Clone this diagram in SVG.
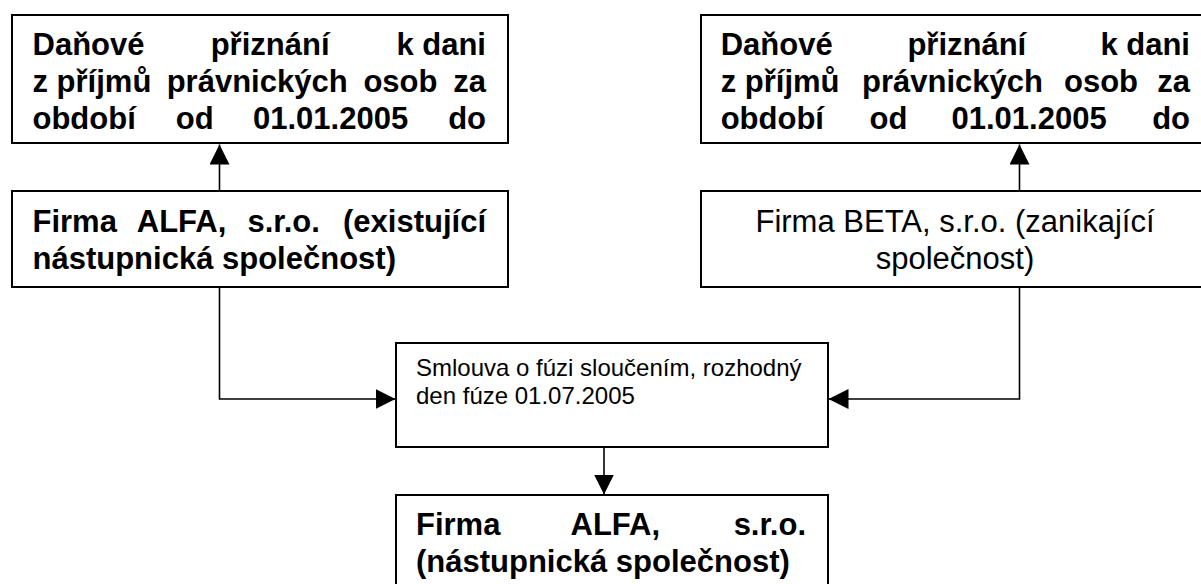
<svg xmlns="http://www.w3.org/2000/svg" width="1201" height="584" viewBox="0 0 1201 584">
<style>
.box{fill:#fff;stroke:#000;stroke-width:2}
.b{font-family:"Liberation Sans",Arial,sans-serif;font-weight:bold;font-size:31px;fill:#000}
.r{font-family:"Liberation Sans",Arial,sans-serif;font-size:31px;fill:#000}
.s{font-family:"Liberation Sans",Arial,sans-serif;font-size:24px;fill:#000}
.e{text-anchor:end}
.m{text-anchor:middle}
.c{fill:none;stroke:#000;stroke-width:1.6}
</style>
<defs>
<marker id="arr" markerUnits="userSpaceOnUse" markerWidth="20" markerHeight="20" refX="20" refY="10" orient="auto" viewBox="0 0 20 20">
<path d="M0,0 L20,10 L0,20 z" fill="#000"/>
</marker>
</defs>
<rect width="1201" height="584" fill="#fff"/>
<g id="connectors">
<path class="c" d="M219.5,191 V144.5" marker-end="url(#arr)"/>
<path class="c" d="M1019.5,191 V144.5" marker-end="url(#arr)"/>
<path class="c" d="M219.5,287 V399 H395.5" marker-end="url(#arr)"/>
<path class="c" d="M1019.5,287 V399 H828.5" marker-end="url(#arr)"/>
<path class="c" d="M604,447 V494.5" marker-end="url(#arr)"/>
</g>
<g id="dap-alfa">
<rect class="box" x="12" y="15" width="496" height="128"/>
<text class="b" y="54.5"><tspan x="32.5">Daňové</tspan><tspan x="210.7">přiznání</tspan></text>
<text class="b e" x="486" y="54.5">k dani</text>
<text class="b" y="91.5"><tspan x="32.5">z příjmů</tspan><tspan x="166.7">právnických</tspan><tspan x="363.4">osob</tspan></text>
<text class="b e" x="486" y="91.5">za</text>
<text class="b" y="128.5"><tspan x="32.5">období</tspan><tspan x="175.8">od</tspan><tspan x="253">01.01.2005</tspan></text>
<text class="b e" x="486" y="128.5">do</text>
</g>
<g id="dap-beta">
<rect class="box" x="701" y="15" width="510" height="128"/>
<text class="b" y="54.5"><tspan x="720.7">Daňové</tspan><tspan x="907.4">přiznání</tspan></text>
<text class="b e" x="1190" y="54.5">k dani</text>
<text class="b" y="91.5"><tspan x="720.7">z příjmů</tspan><tspan x="862">právnických</tspan><tspan x="1064">osob</tspan></text>
<text class="b e" x="1190" y="91.5">za</text>
<text class="b" y="128.5"><tspan x="720.7">období</tspan><tspan x="869.5">od</tspan><tspan x="951.5">01.01.2005</tspan></text>
<text class="b e" x="1190" y="128.5">do</text>
</g>
<g id="alfa">
<rect class="box" x="12" y="191" width="496" height="96"/>
<text class="b" y="231.5"><tspan x="32.5">Firma</tspan><tspan x="136.8">ALFA,</tspan><tspan x="247.5">s.r.o.</tspan></text>
<text class="b e" x="486" y="231.5">(existující</text>
<text class="b" x="32.5" y="268.5">nástupnická společnost)</text>
</g>
<g id="beta">
<rect class="box" x="701" y="191" width="510" height="96"/>
<text class="r m" x="955" y="231.5">Firma BETA, s.r.o. (zanikající</text>
<text class="r m" x="955" y="268.5">společnost)</text>
</g>
<g id="smlouva">
<rect class="box" x="396" y="343" width="432" height="104"/>
<text class="s" x="416" y="376">Smlouva o fúzi sloučením, rozhodný</text>
<text class="s" x="416" y="403.5">den fúze 01.07.2005</text>
</g>
<g id="alfa-nastupnicka">
<rect class="box" x="396" y="495" width="432" height="110"/>
<text class="b" y="534.5"><tspan x="416">Firma</tspan><tspan x="570.5">ALFA,</tspan></text>
<text class="b e" x="806" y="534.5">s.r.o.</text>
<text class="b" x="416" y="571.5">(nástupnická společnost)</text>
</g>
</svg>
